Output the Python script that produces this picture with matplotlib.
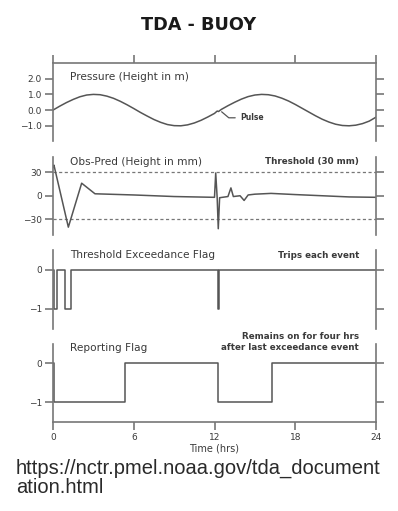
import matplotlib
matplotlib.use("Agg")
import matplotlib.pyplot as plt

W, H = 398, 511

# --- data ---
hours = [0, 6, 12, 18, 24]

p_time = [0, 0.5, 1, 1.5, 2, 2.5, 3, 3.5, 4, 4.5, 5, 5.5, 6, 6.5, 7, 7.5,
          8, 8.5, 9, 9.5, 10, 10.5, 11, 11.5, 12, 12.2, 12.3, 12.5, 13, 13.5,
          14, 14.5, 15, 15.5, 16, 16.5, 17, 17.5, 18, 18.5, 19, 19.5, 20,
          20.5, 21, 21.5, 22, 22.5, 23, 23.5, 24]
p_height = [0.00, 0.25, 0.48, 0.68, 0.85, 0.96, 1.00, 0.98, 0.89, 0.75, 0.56,
            0.34, 0.10, -0.15, -0.38, -0.60, -0.78, -0.92, -0.99, -1.00,
            -0.94, -0.82, -0.65, -0.44, -0.21, -0.06, -0.09, 0.04, 0.28, 0.50,
            0.70, 0.86, 0.96, 1.00, 0.98, 0.90, 0.76, 0.58, 0.36, 0.12, -0.12,
            -0.36, -0.58, -0.76, -0.90, -0.98, -1.00, -0.96, -0.86, -0.70,
            -0.45]

d_time = [0, 0.07, 1.14, 2.13, 3.12, 6, 9, 12.0, 12.09, 12.2, 12.28, 12.38,
          13.0, 13.22, 13.4, 13.9, 14.2, 14.5, 15, 16.2, 18, 20, 22, 24]
d_mm = [36, 39, -40, 16, 2.5, 1, -1, -2, 29, -3, -42, -2.5,
        -1, 10, -1, 0, -6, 1, 2, 3, 1.5, 0, -1.5, -2]
threshold = 30

flag_time = [0, 0.07, 0.27, 0.89, 1.32, 12.25, 12.31, 24]
flag_val = [0, -1, 0, -1, 0, -1, 0, 0]

rep_time = [0, 0.07, 5.35, 12.25, 16.3, 24]
rep_val = [0, -1, 0, -1, 0, 0]

p_ticks = [2, 1, 0, -1]
d_ticks = [30, 0, -30]
f_ticks = [0, -1]

line_c = "#555555"
axis_c = "#777777"
text_c = "#3a3a3a"

fig = plt.figure(figsize=(W / 100, H / 100), dpi=100)


def make_ax(top_px, height_px=78.5):
    left = 53 / W
    width = 323 / W
    bottom = 1 - (top_px + height_px) / H
    ax = fig.add_axes([left, bottom, width, height_px / H])
    ax.set_xlim(0, 24)
    for s in ["top", "bottom"]:
        ax.spines[s].set_visible(False)
    for s in ax.spines.values():
        s.set_color(axis_c)
        s.set_linewidth(1.2)
    ax.tick_params(axis="y", left=True, right=True, direction="out",
                   length=6, width=1.2, color=axis_c, labelsize=6.5,
                   labelcolor=text_c, pad=2)
    ax.tick_params(axis="x", bottom=False, labelbottom=False)
    ax.patch.set_alpha(0)
    return ax


def label(ax, x, y, s, size=7.6, ha="left", weight="normal"):
    ax.text(x, y, s, transform=ax.transAxes, ha=ha, va="center",
            fontsize=size, color=text_c, fontweight=weight)


fig.text(0.5, 1 - 25 / H, "TDA - BUOY", ha="center", va="center",
         fontsize=12.7, fontweight="bold", color="#1a1a1a")

# pressure
ax1 = make_ax(63)
ax1.plot(p_time, p_height, color=line_c, lw=1.1)
ax1.set_ylim(-2, 3)
ax1.set_yticks(p_ticks)
ax1.set_yticklabels([f"{v:.1f}".replace("-", "\u2212") for v in p_ticks])
ax1.spines["top"].set_visible(True)
ax1.spines["top"].set_color(axis_c)
ax1.set_xticks(hours)
ax1.tick_params(axis="x", top=True, labeltop=False, direction="out",
                length=6, width=1.2, color=axis_c)
label(ax1, 0.053, 0.82, "Pressure (Height in m)")
ax1.annotate("Pulse", xy=(12.45, -0.05), xytext=(13.95, -0.49),
             fontsize=5.5, fontweight="bold", color=text_c, va="center",
             arrowprops=dict(arrowstyle="-", color=line_c, lw=0.9,
                             shrinkA=2, shrinkB=1,
                             connectionstyle="angle,angleA=0,angleB=-40,rad=0"))

# obs - pred
ax2 = make_ax(156.5)
for th in (threshold, -threshold):
    ax2.axhline(th, color=axis_c, lw=0.9, ls=(0, (2.5, 2)))
ax2.plot(d_time, d_mm, color=line_c, lw=1.1)
ax2.set_ylim(-50, 50)
ax2.set_yticks(d_ticks)
label(ax2, 0.053, 0.93, "Obs-Pred (Height in mm)")
label(ax2, 0.947, 0.93, "Threshold (30 mm)", size=6.3, ha="right",
      weight="semibold")

# exceedance flag
ax3 = make_ax(250)
ax3.plot(flag_time, flag_val, color=line_c, lw=1.1, drawstyle="steps-post")
ax3.set_ylim(-1.5, 0.5)
ax3.set_yticks(f_ticks)
label(ax3, 0.053, 0.936, "Threshold Exceedance Flag")
label(ax3, 0.947, 0.936, "Trips each event", size=6.3, ha="right",
      weight="semibold")

# reporting flag
ax4 = make_ax(343.5)
ax4.plot(rep_time, rep_val, color=line_c, lw=1.1, drawstyle="steps-post")
ax4.set_ylim(-1.5, 0.5)
ax4.set_yticks(f_ticks)
ax4.spines["bottom"].set_visible(True)
ax4.set_xticks(hours)
ax4.tick_params(axis="x", bottom=True, labelbottom=True, direction="out",
                length=6, width=1.2, color=axis_c, labelsize=6.5,
                labelcolor=text_c, pad=2)
ax4.set_xlabel("Time (hrs)", fontsize=7, color=text_c, labelpad=1)
label(ax4, 0.053, 0.943, "Reporting Flag")
label(ax4, 0.947, 1.087, "Remains on for four hrs", size=6.3, ha="right",
      weight="semibold")
label(ax4, 0.947, 0.943, "after last exceedance event", size=6.3, ha="right",
      weight="semibold")

fig.text(16 / W, 1 - 478 / H,
         "https://nctr.pmel.noaa.gov/tda_document\nation.html",
         ha="left", va="center", fontsize=14.5, color="#2a2a2a",
         family="Liberation Sans", linespacing=1.0)

fig.savefig("out.png", dpi=100)
